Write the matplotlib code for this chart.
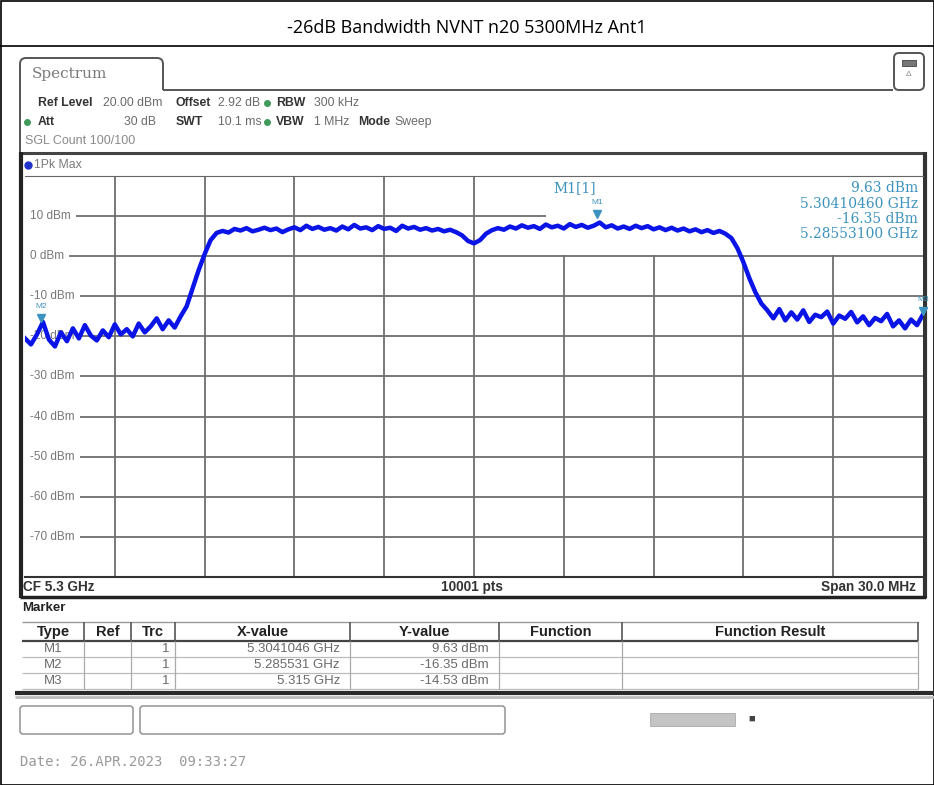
import numpy as np
import matplotlib
matplotlib.use('Agg')
import matplotlib.pyplot as plt
from matplotlib.patches import Rectangle, FancyBboxPatch, PathPatch
from matplotlib.path import Path

W, H = 934, 785
TITLE = '-26dB Bandwidth NVNT n20 5300MHz Ant1'

# sweep: 5.285 .. 5.315 GHz, one reading per 0.2 MHz
F_START = 5.285
F_STEP = 0.0002
LEVEL_DBM = [
    -20.5, -22.0, -19.5, -16.4, -20.8, -22.5, -19.0, -21.2, -18.0, -20.5,
    -17.2, -19.8, -21.0, -18.5, -20.2, -17.0, -19.5, -18.2, -20.0, -16.8,
    -19.0, -17.5, -15.5, -18.2, -16.0, -17.8, -15.0, -12.5, -8.0, -3.5,
    0.5, 4.0, 5.8, 6.3, 5.9, 6.8, 6.4, 7.0, 6.2, 6.6,
    7.1, 6.5, 6.9, 6.0, 6.7, 7.2, 6.5, 7.6, 6.8, 7.3,
    6.6, 7.0, 6.4, 7.4, 6.7, 7.8, 6.9, 7.2, 6.5, 7.5,
    6.8, 7.1, 6.3, 7.6, 6.9, 7.3, 6.6, 7.0, 6.4, 6.8,
    6.2, 6.6, 6.0, 5.2, 3.8, 3.2, 4.0, 5.6, 6.5, 7.0,
    6.6, 7.4, 6.9, 7.7, 7.1, 7.5, 6.8, 7.9, 7.2, 7.6,
    6.9, 8.0, 7.3, 7.8, 7.1, 7.6, 8.4, 7.2, 7.7, 6.9,
    7.4, 6.8, 7.6, 7.0, 7.5, 6.7, 7.2, 6.5, 7.1, 6.4,
    6.9, 6.2, 6.7, 6.0, 6.5, 5.8, 6.3, 5.6, 4.5, 2.0,
    -1.5, -5.5, -9.0, -11.8, -13.5, -15.5, -13.2, -16.0, -14.0, -15.8,
    -13.5, -16.4, -14.6, -15.2, -13.8, -16.8, -14.8, -15.6, -13.9, -16.5,
    -15.0, -17.2, -15.4, -16.2, -14.4, -17.5, -16.0, -18.0, -15.8, -17.2,
    -14.53,
]

MARKERS = ['M1', 'M2', 'M3']
MARKER_FREQ = [5.3041046, 5.285531, 5.315]
MARKER_LEVEL = [9.63, -16.35, -14.53]
MARKER_XTXT = ['5.3041046 GHz', '5.285531 GHz', '5.315 GHz']
MARKER_YTXT = ['9.63 dBm', '-16.35 dBm', '-14.53 dBm']
INFO_LINES = ['9.63 dBm', '5.30410460 GHz', '-16.35 dBm', '5.28553100 GHz']
Y_TICKS = [10, 0, -10, -20, -30, -40, -50, -60, -70]

TRACE = '#0a14e6'
MCOL = '#3d93bf'
GREY = '#6a6a6a'
DARK = '#333333'
GREEN = '#3f9a5c'
FONT = 'Liberation Sans'

fig = plt.figure(figsize=(W / 100, H / 100), dpi=100)
bg = fig.add_axes([0, 0, 1, 1])
bg.set_xlim(0, W)
bg.set_ylim(H, 0)
bg.axis('off')


def line(x0, y0, x1, y1, c=DARK, lw=1.0):
    bg.plot([x0, x1], [y0, y1], color=c, lw=lw, solid_capstyle='butt')


def txt(x, y, s, size=8.8, c=GREY, bold=False, ha='left', family=FONT):
    bg.text(x, y, s, fontsize=size, color=c, ha=ha, va='center',
            fontweight='bold' if bold else 'normal', family=family)


# outer page frame + title
bg.add_patch(Rectangle((0.5, 0.5), W - 1, H - 1, fill=False, ec='black', lw=1.2))
line(0, 46, W, 46, 'black', 1.2)
txt(W / 2, 28, TITLE, size=13, c='black', ha='center', family='Open Sans')

# tab "Spectrum" (open at the bottom)
tab = Path([(20, 152), (20, 64), (20, 58), (26, 58), (157, 58), (163, 58), (163, 64), (163, 90)],
           [Path.MOVETO, Path.LINETO, Path.CURVE3, Path.CURVE3, Path.LINETO,
            Path.CURVE3, Path.CURVE3, Path.LINETO])
bg.add_patch(PathPatch(tab, fill=False, ec='#555555', lw=1.4))
line(163, 90, 893, 90, '#555555', 1.4)
txt(32, 74, 'Spectrum', size=11, c='#7a7a7a', family='DejaVu Serif')
bg.add_patch(FancyBboxPatch((894, 53), 30, 37, boxstyle='round,pad=0,rounding_size=5',
                            fill=False, ec='#555555', lw=1.4))
bg.add_patch(Rectangle((902, 60), 14, 6, fc='#777777', ec='#444444', lw=0.6))
txt(909, 75, '\u0394', size=6, c='#888888', ha='center')

# setting rows
txt(38, 103, 'Ref Level', bold=True, c=DARK)
txt(103, 103, '20.00 dBm')
txt(176, 103, 'Offset', bold=True, c=DARK)
txt(218, 103, '2.92 dB')
txt(38, 122, 'Att', bold=True, c=DARK)
txt(156, 122, '30 dB', ha='right')
txt(176, 122, 'SWT', bold=True, c=DARK)
txt(218, 122, '10.1 ms')
for yy, lab, val in [(103, 'RBW', '300 kHz'), (122, 'VBW', '1 MHz')]:
    bg.plot(267, yy, 'o', ms=4, color=GREEN)
    txt(276, yy, lab, bold=True, c=DARK)
    txt(314, yy, val)
bg.plot(27, 122, 'o', ms=4, color=GREEN)
txt(358, 122, 'Mode', bold=True, c=DARK)
txt(394, 122, 'Sweep')
txt(25, 141, 'SGL Count 100/100', size=9, c='#8a8a8a')

# diagram frame
line(20, 153, 926, 153, '#444444', 2.2)
line(21, 152, 21, 598, '#222222', 3.0)
line(925, 152, 925, 598, '#333333', 3.0)
line(20, 597, 926, 597, '#222222', 2.5)
bg.plot(28, 165, 'o', ms=5, color='#2233cc')
txt(34, 165, '1Pk Max', c='#7a7a7a')
txt(23, 587, 'CF 5.3 GHz', size=9.8, bold=True, c=DARK)
txt(472, 587, '10001 pts', size=9.8, bold=True, c=DARK, ha='center')
txt(916, 587, 'Span 30.0 MHz', size=9.8, bold=True, c=DARK, ha='right')

# spectrum axes
ax = fig.add_axes([25 / W, 1 - 577 / H, 898 / W, 401 / H])
ax.set_xlim(5.285, 5.315)
ax.set_ylim(-80, 20)
ax.set_xticks([])
ax.set_yticks([])
for s in ['left', 'right']:
    ax.spines[s].set_visible(False)
ax.spines['top'].set_color('#666666')
ax.spines['bottom'].set_color('#333333')
ax.spines['bottom'].set_linewidth(1.5)

ax.vlines([5.285 + 0.003 * i for i in range(1, 10)], -80, 20, color='#6e6e6e', lw=1.3, zorder=1)
ax.hlines(Y_TICKS, 5.2851, 5.315, color='#6e6e6e', lw=1.3, zorder=1)
for v in Y_TICKS:
    ax.text(0.006, v, f'{v} dBm', transform=ax.get_yaxis_transform(), fontsize=8.5,
            color='#777777', va='center', family=FONT, zorder=2, clip_on=False,
            bbox=dict(fc='white', ec='none', pad=3.6))
# marker info block hides the grid in the top right
ax.add_patch(Rectangle((5.3024, 0.2), 0.0126, 19.8, fc='white', ec='none', zorder=2))

freq = F_START + F_STEP * np.arange(len(LEVEL_DBM))
ax.plot(freq, LEVEL_DBM, color=TRACE, lw=3.2, zorder=3)

for name, f, lv in zip(MARKERS, MARKER_FREQ, MARKER_LEVEL):
    ax.plot(f, lv + 0.9, marker='v', ms=6, color=MCOL, zorder=4, clip_on=False)
    ax.text(f, lv + 2.9, name, fontsize=6, color=MCOL, ha='center', va='bottom',
            family=FONT, zorder=4, clip_on=False)

for i, s in enumerate(INFO_LINES):
    ax.text(918, 188 + 15.5 * i, s, transform=bg.transData, fontsize=10, color=MCOL,
            ha='right', va='center', family='DejaVu Serif', zorder=5)
ax.text(553, 188, 'M1[1]', transform=bg.transData, fontsize=10, color=MCOL,
        ha='left', va='center', family='DejaVu Serif', zorder=5)

# marker table
txt(22, 608, 'Marker', size=9.5, bold=True, c='#222222')
cols = [22, 84, 131, 175, 350, 499, 622, 918]
heads = ['Type', 'Ref', 'Trc', 'X-value', 'Y-value', 'Function', 'Function Result']
rows_y = [622, 641, 657, 673, 689]
line(22, rows_y[0], 918, rows_y[0], '#999999', 1.0)
line(22, rows_y[1], 918, rows_y[1], '#444444', 1.6)
for yy in rows_y[2:]:
    line(22, yy, 918, yy, '#bbbbbb', 0.9)
for x in cols[1:]:
    line(x, rows_y[0], x, rows_y[1], '#555555', 1.2)
    line(x, rows_y[1], x, rows_y[-1], '#aaaaaa', 0.9)
for i, h in enumerate(heads):
    txt((cols[i] + cols[i + 1]) / 2, 632, h, size=10.5, bold=True, c='#222222', ha='center')
for r, (name, xt, yt) in enumerate(zip(MARKERS, MARKER_XTXT, MARKER_YTXT)):
    yy = (rows_y[r + 1] + rows_y[r + 2]) / 2
    txt(53, yy, name, size=9.5, ha='center')
    txt(169, yy, '1', size=9.5, ha='right')
    txt(340, yy, xt, size=9.5, ha='right')
    txt(489, yy, yt, size=9.5, ha='right')

line(15, 693, W, 693, '#2a2a2a', 3.0)
line(15, 697, W, 697, '#bbbbbb', 2.0)

# status bar
bg.add_patch(FancyBboxPatch((20, 706), 113, 28, boxstyle='round,pad=0,rounding_size=3',
                            fill=False, ec='#888888', lw=1.0))
bg.add_patch(FancyBboxPatch((140, 706), 365, 28, boxstyle='round,pad=0,rounding_size=3',
                            fill=False, ec='#888888', lw=1.0))
bg.add_patch(Rectangle((650, 713), 85, 13, fc='#c4c4c4', ec='#aaaaaa', lw=0.6))
txt(752, 719, '\u25a0', size=8, c='#444444', ha='center')
txt(20, 762, 'Date: 26.APR.2023  09:33:27', size=10, c='#9a9a9a', family='DejaVu Sans Mono')

fig.savefig('out.png', dpi=100)
